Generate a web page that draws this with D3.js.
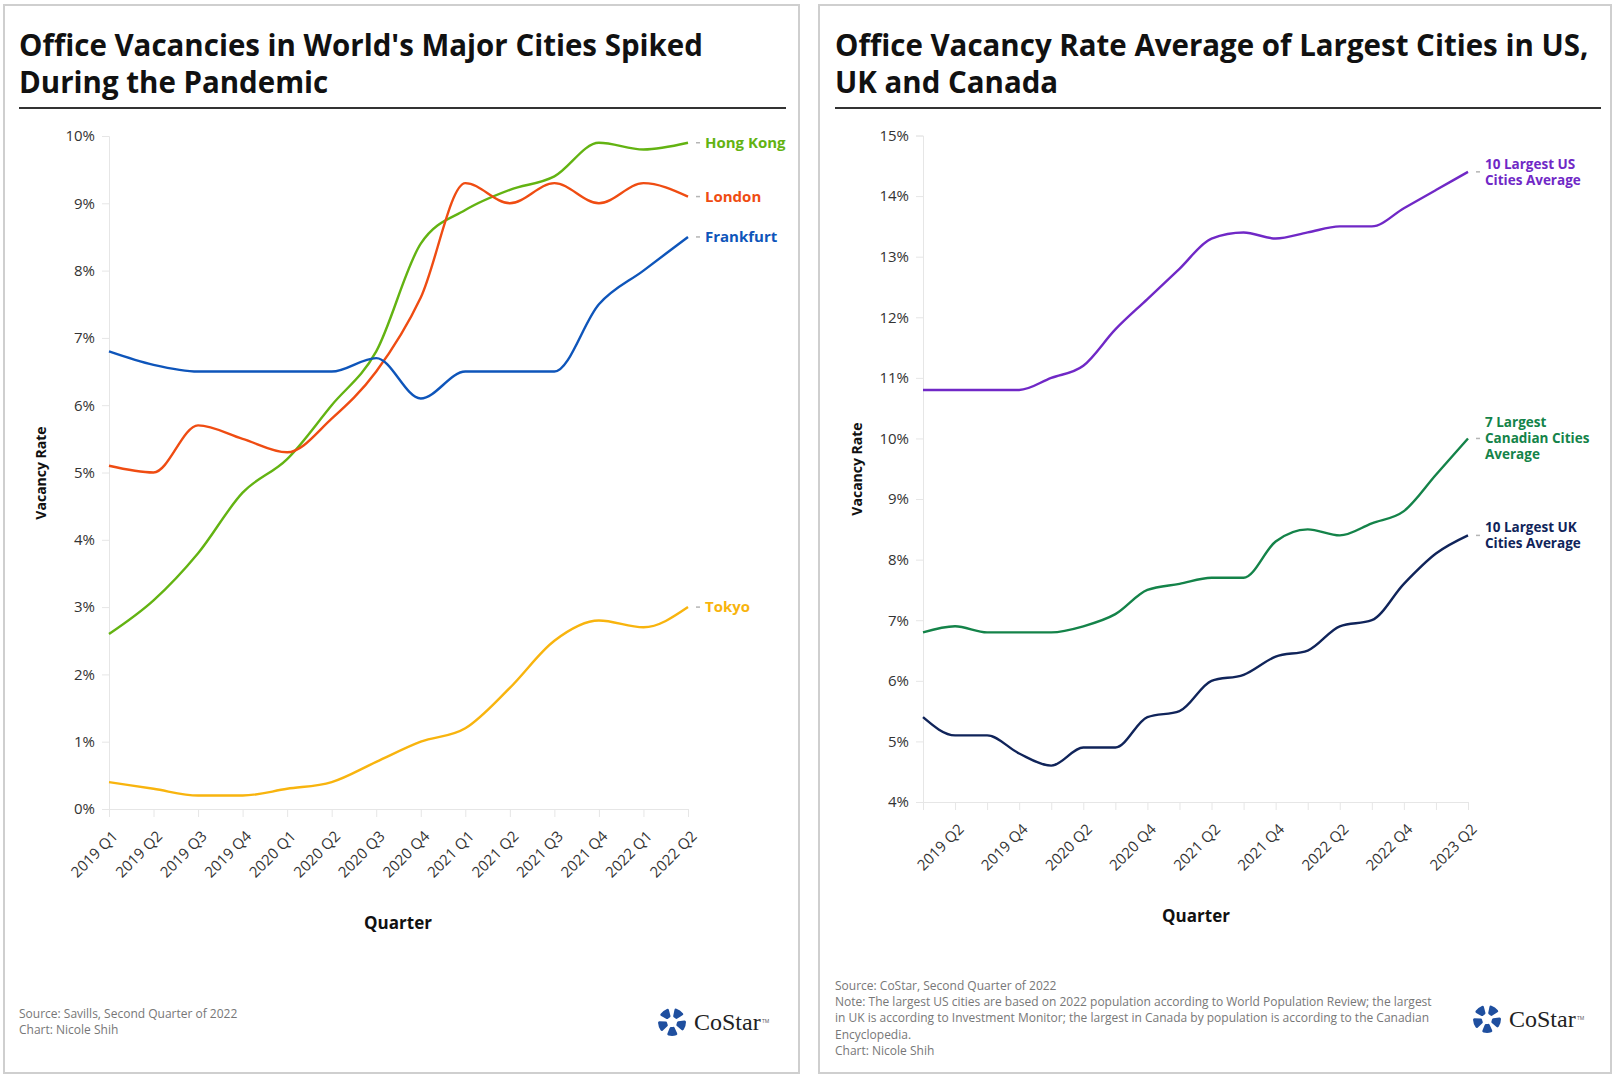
<!DOCTYPE html>
<html>
<head>
<meta charset="utf-8">
<script src="https://cdn.jsdelivr.net/npm/d3@7"></script>
<style>
body{margin:0;background:#fff;}
svg text{font-family:"Open Sans","Noto Sans",sans-serif;}
</style>
</head>
<body>
<svg id="chart" width="1619" height="1079"></svg>
<script>
// left chart data (Savills)
var quartersLeft=["2019 Q1","2019 Q2","2019 Q3","2019 Q4","2020 Q1","2020 Q2","2020 Q3","2020 Q4","2021 Q1","2021 Q2","2021 Q3","2021 Q4","2022 Q1","2022 Q2"];
var hongKong=[2.6,3.1,3.8,4.7,5.2,6.0,6.8,8.4,8.9,9.2,9.4,9.9,9.8,9.9];
var london=[5.1,5.0,5.7,5.5,5.3,5.8,6.5,7.6,9.3,9.0,9.3,9.0,9.3,9.1];
var frankfurt=[6.8,6.6,6.5,6.5,6.5,6.5,6.7,6.1,6.5,6.5,6.5,7.5,8.0,8.5];
var tokyo=[0.4,0.3,0.2,0.2,0.3,0.4,0.7,1.0,1.2,1.8,2.5,2.8,2.7,3.0];
var leftTicks=[0,1,2,3,4,5,6,7,8,9,10];

// right chart data (CoStar)
var quartersRight=["2019 Q1","2019 Q2","2019 Q3","2019 Q4","2020 Q1","2020 Q2","2020 Q3","2020 Q4","2021 Q1","2021 Q2","2021 Q3","2021 Q4","2022 Q1","2022 Q2","2022 Q3","2022 Q4","2023 Q1","2023 Q2"];
var usAverage=[10.8,10.8,10.8,10.8,11.0,11.2,11.8,12.3,12.8,13.3,13.4,13.3,13.4,13.5,13.5,13.8,14.1,14.4];
var canadaAverage=[6.8,6.9,6.8,6.8,6.8,6.9,7.1,7.5,7.6,7.7,7.7,8.3,8.5,8.4,8.6,8.8,9.4,10.0];
var ukAverage=[5.4,5.1,5.1,4.8,4.6,4.9,4.9,5.4,5.5,6.0,6.1,6.4,6.5,6.9,7.0,7.6,8.1,8.4];
var rightTicks=[4,5,6,7,8,9,10,11,12,13,14,15];
var rightLabelled=["2019 Q2","2019 Q4","2020 Q2","2020 Q4","2021 Q2","2021 Q4","2022 Q2","2022 Q4","2023 Q2"];

var svg=d3.select("#chart");

// panel frames
svg.append("rect").attr("x",4).attr("y",5).attr("width",795).attr("height",1068)
	.attr("fill","#fff").attr("stroke","#cfcfcf").attr("stroke-width",2);
svg.append("rect").attr("x",819).attr("y",5).attr("width",792).attr("height",1068)
	.attr("fill","#fff").attr("stroke","#cfcfcf").attr("stroke-width",2);

// size titles so the first left line is ~684px wide like the original
var probe=svg.append("text").style("font-size","26px").style("font-weight","bold")
	.text("Office Vacancies in World's Major Cities Spiked");
var titleSize=26*684/probe.node().getComputedTextLength();
probe.remove();

function drawPanel(p){
	var g=svg.append("g");

	// title + rule
	p.title.forEach(function(t,i){
		g.append("text").attr("x",p.titleX).attr("y",56+i*37)
			.style("font-size",titleSize+"px").style("font-weight","bold").attr("fill","#111")
			.text(t);
	});
	g.append("line").attr("x1",p.titleX).attr("x2",p.ruleEnd).attr("y1",108).attr("y2",108)
		.attr("stroke","#333").attr("stroke-width",2);

	var x=d3.scalePoint().domain(p.categories).range([p.left,p.right]);
	var y=d3.scaleLinear().domain(p.yDomain).range([p.bottom,p.top]);

	// y axis
	var yAxis=d3.axisLeft(y).tickValues(p.yTicks).tickSize(7).tickPadding(7)
		.tickFormat(function(d){return d+"%";});
	var ya=g.append("g").attr("transform","translate("+p.left+",0)").call(yAxis);
	ya.select(".domain").attr("stroke","#e6e6e6");
	ya.selectAll(".tick line").attr("stroke","#e6e6e6");
	ya.selectAll("text").style("font-size","15px").attr("fill","#333")
		.style("font-family","'Open Sans', sans-serif");

	// x axis
	var xAxis=d3.axisBottom(x).tickSize(8).tickSizeOuter(0)
		.tickFormat(function(d){return p.labelled.indexOf(d)>=0?d:"";});
	var xa=g.append("g").attr("transform","translate(0,"+p.bottom+")").call(xAxis);
	xa.select(".domain").attr("stroke","#e6e6e6");
	xa.selectAll(".tick line").attr("stroke","#e6e6e6");
	xa.selectAll("text").style("font-size","15px").attr("fill","#333")
		.style("font-family","'Open Sans', sans-serif")
		.style("text-anchor","end")
		.attr("transform","translate(-6,13) rotate(-45)")
		.attr("dy","0.7em");

	// axis titles
	g.append("text").attr("x",p.xTitle[0]).attr("y",p.xTitle[1]).attr("text-anchor","middle")
		.style("font-size","17px").style("font-weight","bold").attr("fill","#111").text("Quarter");
	g.append("text").attr("transform","translate("+p.yTitle[0]+","+p.yTitle[1]+") rotate(-90)")
		.attr("text-anchor","middle").attr("dy","0.35em")
		.style("font-size","14px").style("font-weight","bold").attr("fill","#111").text("Vacancy Rate");

	// lines
	var line=d3.line()
		.x(function(d,i){return x(p.categories[i]);})
		.y(function(d){return y(d);})
		.curve(d3.curveMonotoneX);

	p.series.forEach(function(s){
		g.append("path").datum(s.values)
			.attr("fill","none").attr("stroke",s.color).attr("stroke-width",2.4)
			.attr("d",line);
		var ex=x(p.categories[p.categories.length-1]);
		var ey=y(s.values[s.values.length-1]);
		g.append("line").attr("x1",ex+8).attr("x2",ex+12).attr("y1",ey).attr("y2",ey)
			.attr("stroke","#b5b5b5").attr("stroke-width",1.5);
		var n=s.label.length;
		// one text per label line
		s.label.forEach(function(t,i){
			g.append("text").attr("x",ex+17)
				.attr("y",ey-(n-1)/2*p.labelLead+i*p.labelLead)
				.attr("dy","0.35em")
				.style("font-size",p.labelSize+"px").style("font-weight","bold").attr("fill",s.color)
				.text(t);
		});
	});

	// footer
	p.footer.forEach(function(t,i){
		g.append("text").attr("x",p.titleX).attr("y",p.footerY+i*16.2)
			.style("font-size","12px").attr("fill","#777").text(t);
	});

	addLogo(g,p.logo[0],p.logo[1]);
}

function addLogo(g,cx,cy){
	var arc=d3.arc().innerRadius(5).outerRadius(14).cornerRadius(1.5);
	for(var i=0;i<5;i++){
		var a=i*2*Math.PI/5+0.2;
		g.append("path")
			.attr("d",arc({startAngle:a,endAngle:a+2*Math.PI/5-0.45}))
			.attr("transform","translate("+cx+","+cy+")")
			.attr("fill","#1f4f9f");
	}
	g.append("text").attr("x",cx+22).attr("y",cy+8)
		.style("font-family","'Liberation Serif',serif").style("font-size","24px")
		.attr("fill","#222").text("CoStar");
	g.append("text").attr("x",cx+90).attr("y",cy+1)
		.style("font-size","5px").attr("fill","#555").text("TM");
}

drawPanel({
	title:["Office Vacancies in World's Major Cities Spiked","During the Pandemic"],
	titleX:19, ruleEnd:786,
	categories:quartersLeft, labelled:quartersLeft,
	left:109, right:688, top:136, bottom:809,
	yDomain:[0,10], yTicks:leftTicks,
	xTitle:[398,929], yTitle:[41,473],
	labelSize:15, labelLead:15,
	series:[
		{values:hongKong,color:"#63b312",label:["Hong Kong"]},
		{values:london,color:"#ef4c12",label:["London"]},
		{values:frankfurt,color:"#0e55ba",label:["Frankfurt"]},
		{values:tokyo,color:"#f8b40e",label:["Tokyo"]}
	],
	footer:["Source: Savills, Second Quarter of 2022","Chart: Nicole Shih"],
	footerY:1018,
	logo:[672,1022]
});

drawPanel({
	title:["Office Vacancy Rate Average of Largest Cities in US,","UK and Canada"],
	titleX:835, ruleEnd:1601,
	categories:quartersRight, labelled:rightLabelled,
	left:923, right:1468, top:135.5, bottom:802,
	yDomain:[4,15], yTicks:rightTicks,
	xTitle:[1196,922], yTitle:[857,469],
	labelSize:13.5, labelLead:16,
	series:[
		{values:usAverage,color:"#7028c6",label:["10 Largest US","Cities Average"]},
		{values:canadaAverage,color:"#148349",label:["7 Largest","Canadian Cities","Average"]},
		{values:ukAverage,color:"#10245a",label:["10 Largest UK","Cities Average"]}
	],
	footer:["Source: CoStar, Second Quarter of 2022",
		"Note: The largest US cities are based on 2022 population according to World Population Review; the largest",
		"in UK is according to Investment Monitor; the largest in Canada by population is according to the Canadian",
		"Encyclopedia.",
		"Chart: Nicole Shih"],
	footerY:990,
	logo:[1487,1019]
});
</script>
</body>
</html>
